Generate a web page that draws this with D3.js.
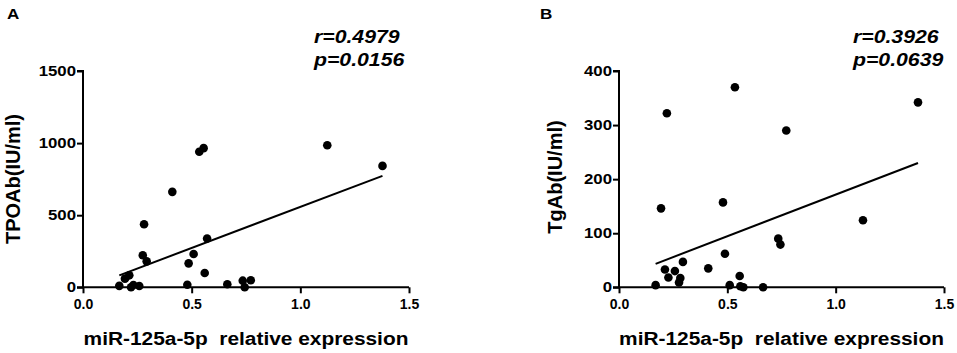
<!DOCTYPE html>
<html><head><meta charset="utf-8">
<script src="https://cdn.jsdelivr.net/npm/d3@7"></script>
<style>body{margin:0;background:#fff}svg{display:block}text{font-family:"Liberation Sans",Arial,sans-serif;font-weight:bold;fill:#000}</style>
</head><body><svg id="c" width="957" height="353"></svg>
<script>
// Panel A: TPOAb vs miR-125a-5p
const exprA = [0.167,0.193,0.213,0.221,0.232,0.259,0.275,0.293,0.281,0.411,0.480,0.486,0.509,0.535,0.555,0.560,0.571,0.664,0.735,0.744,0.772,1.124,1.378];
const tpoab = [10,60,83,0,16,9,222,180,437,662,18,166,231,940,965,99,338,21,46,0,49,985,842];
// Panel B: TgAb vs miR-125a-5p
const exprB = [0.169,0.194,0.212,0.221,0.228,0.258,0.277,0.283,0.295,0.412,0.480,0.489,0.511,0.535,0.557,0.560,0.574,0.665,0.735,0.745,0.772,1.126,1.380];
const tgab  = [4,146,33,322,18,30,9,17,47,35,157,62,4,370,21,2,0,0,90,79,290,124,342];
// linear fit lines [slope, intercept]
const fitA = [569.5,-12];
const fitB = [154,17.4];
const xTicks = [0.0,0.5,1.0,1.5];
const yTicksA = [0,500,1000,1500];
const yTicksB = [0,100,200,300,400];
const stats = [["r=0.4979","p=0.0156"],["r=0.3926","p=0.0639"]];
const panelLabels = ["A","B"];
const yTitles = ["TPOAb(IU/ml)","TgAb(IU/ml)"];
const xTitle = "miR-125a-5p\u00a0 relative expression";

const svg = d3.select("#c");
const panels = [
  {xs:exprA, ys:tpoab, fit:fitA, yT:yTicksA, ymax:1500, left:83, right:409, label:[7,19], stat:314, ytx:19.5, yty:179},
  {xs:exprB, ys:tgab,  fit:fitB, yT:yTicksB, ymax:400,  left:619, right:944, label:[540,19], stat:853, ytx:562, yty:177}
];
panels.forEach((p,i)=>{
  const x = d3.scaleLinear().domain([0,1.5]).range([p.left,p.right]);
  const y = d3.scaleLinear().domain([0,p.ymax]).range([287.3,71]);
  const g = svg.append("g");
  const xa = g.append("g").attr("transform","translate(0,287.3)")
    .call(d3.axisBottom(x).tickValues(xTicks).tickFormat(d3.format(".1f")).tickSize(6).tickPadding(6));
  const ya = g.append("g").attr("transform",`translate(${p.left},0)`)
    .call(d3.axisLeft(y).tickValues(p.yT).tickFormat(d3.format("d")).tickSize(6).tickPadding(1));
  [xa,ya].forEach(a=>{
    a.select(".domain").attr("stroke","#000").attr("stroke-width",2);
    a.selectAll(".tick line").attr("stroke","#000").attr("stroke-width",2);
    a.selectAll(".tick text").attr("font-size",14).attr("font-family","Liberation Sans, Arial, sans-serif").attr("font-weight","bold").attr("fill","#000");
  });
  ya.selectAll(".tick text").attr("x",-7/1.2).attr("transform","scale(1.2,1)");
  ya.select(".domain").attr("d",`M-6,${y(p.ymax)}H0V${y(0)}H-6`);
  xa.select(".domain").attr("d",`M${p.left},0H${p.right}`);
  // regression line
  const ext = d3.extent(p.xs);
  g.append("line").attr("x1",x(ext[0])).attr("y1",y(p.fit[0]*ext[0]+p.fit[1]))
    .attr("x2",x(ext[1])).attr("y2",y(p.fit[0]*ext[1]+p.fit[1]))
    .attr("stroke","#000").attr("stroke-width",2);
  g.selectAll("circle.d").data(p.xs.map((v,k)=>[v,p.ys[k]])).join("circle")
    .attr("cx",d=>x(d[0])).attr("cy",d=>y(d[1])).attr("r",4.3).attr("fill","#000");
  g.append("text").attr("transform",`translate(${p.label[0]},${p.label[1]}) scale(1.1,1)`).attr("font-size",15.5).text(panelLabels[i]);
  stats[i].forEach((s,k)=>g.append("text").attr("transform",`translate(${p.stat},${43+k*22.5}) scale(1.18,1)`)
    .attr("font-size",18).attr("font-style","italic").text(s));
  g.append("text").attr("transform",`translate(${p.ytx},${p.yty}) rotate(-90)`)
    .attr("text-anchor","middle").attr("font-size",20).text(yTitles[i]);
  g.append("text").attr("transform",`translate(${(p.left+p.right)/2},345) scale(1.16,1)`).attr("text-anchor","middle")
    .attr("font-size",18).text(xTitle);
});
</script></body></html>
